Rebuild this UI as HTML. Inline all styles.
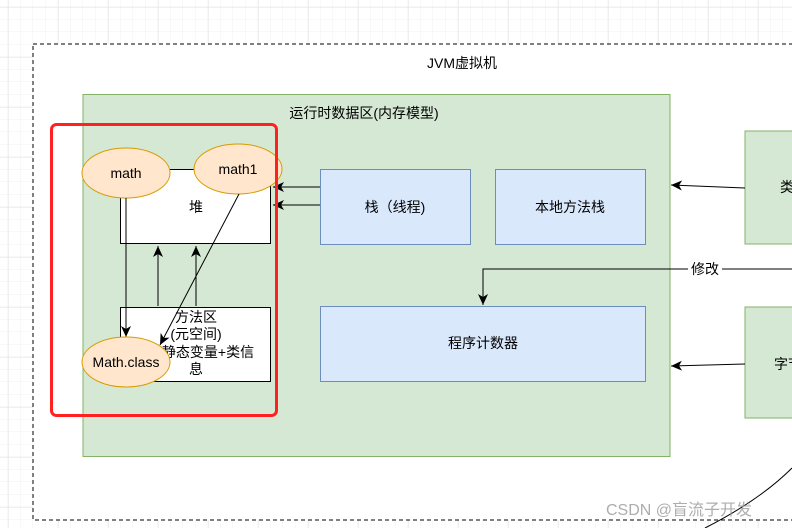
<!DOCTYPE html>
<html><head><meta charset="utf-8"><style>
html,body{margin:0;padding:0;background:#fff}
svg{display:block}
text{font-family:"Liberation Sans","Noto Sans CJK SC",sans-serif;font-size:14px;fill:#000}
</style></head><body>
<svg width="792" height="528" viewBox="0 0 792 528" xmlns="http://www.w3.org/2000/svg">
<defs>
<pattern id="minor" x="8" y="7" width="12.5" height="12.5" patternUnits="userSpaceOnUse"><path d="M12.5 0V12.5M0 12.5H12.5" stroke="#f2f2f2" stroke-width="1" fill="none"/></pattern>
<pattern id="major" x="8" y="7" width="50" height="50" patternUnits="userSpaceOnUse"><path d="M0 0V50M0 0H50" stroke="#e2e2e2" stroke-width="1" fill="none"/></pattern>
<marker id="ar" markerWidth="12" markerHeight="12" refX="11" refY="6" orient="auto" markerUnits="userSpaceOnUse"><path d="M0,1 L11,6 L0,11 L3,6 Z" fill="#000"/></marker>
</defs>
<rect width="792" height="528" fill="url(#minor)"/>
<rect width="792" height="528" fill="url(#major)"/>
<rect x="33" y="44" width="780" height="476" fill="#fff" stroke="#000" stroke-dasharray="4,3"/>
<text x="462" y="68" text-anchor="middle">JVM虚拟机</text>
<rect x="83" y="94.5" width="587" height="362" fill="#d5e8d4" stroke="#82b366"/>
<text x="364" y="118" text-anchor="middle">运行时数据区(内存模型)</text>
<rect x="745" y="131" width="60" height="113" fill="#d5e8d4" stroke="#82b366"/>
<text x="780" y="192">类</text>
<rect x="745" y="307" width="60" height="111" fill="#d5e8d4" stroke="#82b366"/>
<text x="774" y="369">字节</text>
<line x1="745" y1="188" x2="671" y2="185" stroke="#000" marker-end="url(#ar)"/>
<line x1="745" y1="364" x2="671" y2="366" stroke="#000" marker-end="url(#ar)"/>
<path d="M792 269 H483 V305" stroke="#000" fill="none" marker-end="url(#ar)"/>
<rect x="688" y="260" width="34" height="16" fill="#fff"/>
<text x="705" y="274" text-anchor="middle">修改</text>
<path d="M705 528 Q760 500 792 468" stroke="#000" fill="none"/>
<rect x="320.5" y="169.5" width="150" height="75" fill="#dae8fc" stroke="#6c8ebf"/>
<text x="395" y="212" text-anchor="middle">栈（线程)</text>
<rect x="495.5" y="169.5" width="150" height="75" fill="#dae8fc" stroke="#6c8ebf"/>
<text x="570" y="212" text-anchor="middle">本地方法栈</text>
<rect x="320.5" y="306.5" width="325" height="75" fill="#dae8fc" stroke="#6c8ebf"/>
<text x="483" y="348" text-anchor="middle">程序计数器</text>
<line x1="320" y1="187" x2="273" y2="187" stroke="#000" marker-end="url(#ar)"/>
<line x1="320" y1="205" x2="273" y2="205" stroke="#000" marker-end="url(#ar)"/>
<rect x="120.5" y="169.5" width="150" height="74" fill="#fff" stroke="#000"/>
<text x="196" y="212" text-anchor="middle">堆</text>
<rect x="120.5" y="307.5" width="150" height="74" fill="#fff" stroke="#000"/>
<text x="196" y="322" text-anchor="middle">方法区</text>
<text x="196" y="339" text-anchor="middle">(元空间)</text>
<text x="208" y="357" text-anchor="middle">静态变量+类信</text>
<text x="196" y="374" text-anchor="middle">息</text>
<line x1="158" y1="306" x2="158" y2="246" stroke="#000" marker-end="url(#ar)"/>
<line x1="196" y1="306" x2="196" y2="246" stroke="#000" marker-end="url(#ar)"/>
<ellipse cx="126" cy="173" rx="44" ry="25" fill="#ffe6cc" stroke="#d79b00"/>
<text x="126" y="178" text-anchor="middle">math</text>
<ellipse cx="238" cy="169" rx="44" ry="25" fill="#ffe6cc" stroke="#d79b00"/>
<text x="238" y="174" text-anchor="middle">math1</text>
<line x1="126" y1="198" x2="126" y2="337" stroke="#000" marker-end="url(#ar)"/>
<ellipse cx="126" cy="362" rx="44" ry="25" fill="#ffe6cc" stroke="#d79b00"/>
<text x="126" y="367" text-anchor="middle">Math.class</text>
<line x1="239" y1="194" x2="160" y2="345" stroke="#000" marker-end="url(#ar)"/>
<rect x="51.5" y="124.5" width="225" height="291" rx="5" fill="none" stroke="#ff2020" stroke-width="3"/>
<text x="606" y="515" style="font-size:16px;fill:#999;opacity:0.8">CSDN @盲流子开发</text>
</svg>
</body></html>
